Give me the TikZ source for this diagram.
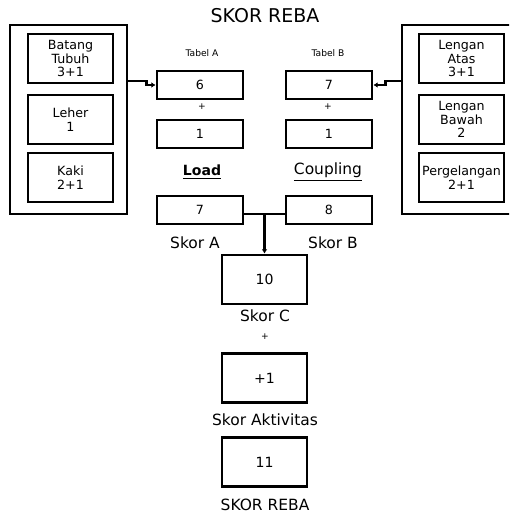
\documentclass[tikz,border=0pt]{standalone}
\usepackage{fontspec}
\setmainfont{DejaVu Sans}
\usetikzlibrary{arrows.meta,calc}

\begin{document}
\begin{tikzpicture}[
  frame/.style={rectangle, draw, line width=2pt, minimum height=4.725cm, inner sep=0pt},
  part/.style={rectangle, draw, line width=2pt, minimum width=2.125cm, minimum height=1.225cm, inner sep=1pt, align=center, font=\fontsize{9}{9.6}\selectfont},
  val/.style={rectangle, draw, line width=2pt, minimum width=2.15cm, minimum height=0.7cm, font=\fontsize{9}{10}\selectfont},
  score/.style={rectangle, draw, line width=2pt, minimum width=2.125cm, minimum height=1.225cm, font=\fontsize{10}{12}\selectfont},
  tag/.style={font=\fontsize{11}{13}\selectfont},
  small/.style={font=\fontsize{6.5}{8}\selectfont},
  link/.style={line width=1.8pt},
  arrow/.style={link, -{Latex[length=3pt,width=4pt]}}
]
\useasboundingbox (0,0) rectangle (12.725,-12.85);
\clip (0,0) rectangle (12.725,-12.85);

% Title
\node[font=\fontsize{13.5}{16}\selectfont] (title) at (6.625,-0.4) {SKOR REBA};

% Group A (left)
\node[frame, minimum width=2.925cm] (lframe) at (1.7125,-2.9875) {};
\node[part] (trunk) at (1.7625,-1.4625) {Batang\\Tubuh\\3+1};
\node[part] (neck) at (1.7625,-2.9875) {Leher\\1};
\node[part] (legs) at (1.7625,-4.4375) {Kaki\\2+1};

% Group B (right)
\node[frame, minimum width=2.9cm] (rframe) at (11.5,-2.9875) {};
\node[part] (uarm) at (11.5375,-1.4625) {Lengan\\Atas\\3+1};
\node[part] (larm) at (11.5375,-2.9875) {Lengan\\Bawah\\2};
\node[part] (wrist) at (11.5375,-4.4375) {Pergelangan\\2+1};

% Tables
\node[small] (tabAlbl) at (5.05,-1.325) {Tabel A};
\node[small] (tabBlbl) at (8.2,-1.325) {Tabel B};
\node[val] (tabA) at (5.0,-2.125) {6};
\node[val] (tabB) at (8.225,-2.125) {7};
\node[small] (plusA) at (5.05,-2.675) {+};
\node[small] (plusB) at (8.2,-2.675) {+};
\node[val] (load) at (5.0,-3.35) {1};
\node[val] (coup) at (8.225,-3.35) {1};
\node[font=\fontsize{10}{12}\selectfont\bfseries] (loadlbl) at (5.05,-4.3) {\underline{Load}};
\node[tag] (couplbl) at (8.2,-4.3) {\underline{Coupling}};

% Scores
\node[val] (skA) at (5.0,-5.25) {7};
\node[val] (skB) at (8.225,-5.25) {8};
\node[tag] (skAlbl) at (4.875,-6.075) {Skor A};
\node[tag] (skBlbl) at (8.325,-6.075) {Skor B};
\node[score] (skC) at (6.6125,-6.9875) {10};
\node[tag] (skClbl) at (6.625,-7.9) {Skor C};
\node[small] (plusC) at (6.625,-8.425) {+};
\node[score] (act) at (6.6125,-9.45) {+1};
\node[tag] (actlbl) at (6.625,-10.5) {Skor Aktivitas};
\node[score] (reba) at (6.6125,-11.55) {11};
\node[tag] (rebalbl) at (6.625,-12.625) {SKOR REBA};

% Connectors
\draw[arrow] ($(lframe.east |- tabA.west)+(0,0.1)$) -| ++(0.45,-0.1) -- (tabA.west);
\draw[arrow] ($(rframe.west |- tabB.east)+(0,0.1)$) -| ++(-0.375,-0.1) -- (tabB.east);
\coordinate (join) at ($(skA.east)!0.5!(skB.west)+(0,-0.1)$);
\draw[link] (skA.east |- join) -- (skB.west |- join);
\draw[arrow] (join) -- (skC.north);
\end{tikzpicture}
\end{document}
